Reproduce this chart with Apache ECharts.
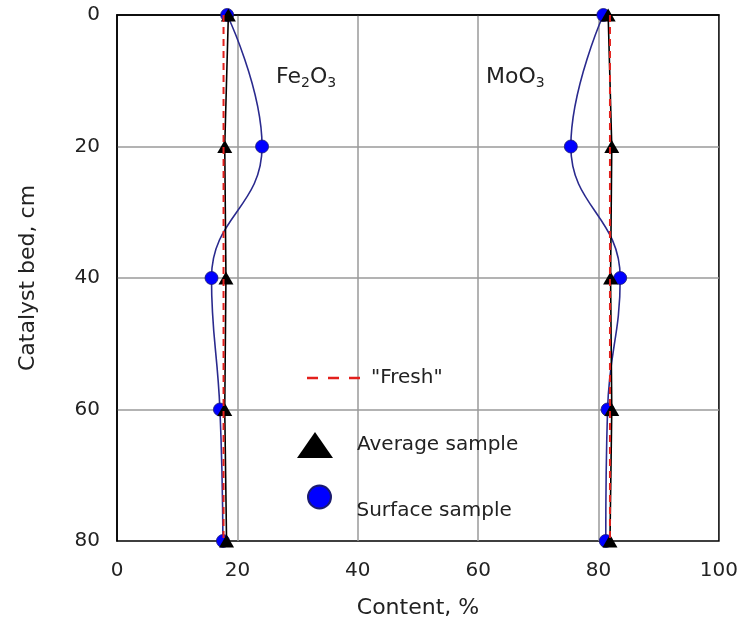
<!DOCTYPE html>
<html>
<head>
<meta charset="utf-8">
<style>
  html, body { margin: 0; padding: 0; background: #fff; }
  #chart { width: 741px; height: 626px; }
</style>
<script src="https://cdn.jsdelivr.net/npm/echarts@6/dist/echarts.min.js"></script>
</head>
<body>
<div id="chart"></div>
<script>
// Depth positions along the catalyst bed, cm
const depths = [0, 20, 40, 60, 80];

// Fe2O3 content, %
const feFresh   = [17.7, 17.7, 17.7, 17.7, 17.7];
const feAverage = [18.5, 17.9, 18.1, 17.9, 18.2];
const feSurface = [18.3, 24.1, 15.7, 17.1, 17.6];

// MoO3 content, %
const moFresh   = [81.9, 81.9, 81.9, 81.9, 81.9];
const moAverage = [81.6, 82.2, 82.0, 82.2, 81.9];
const moSurface = [80.8, 75.4, 83.6, 81.5, 81.2];

// Axis ticks
const xTicks = [0, 20, 40, 60, 80, 100];
const yTicks = [0, 20, 40, 60, 80];

const NAME_FRESH = '"Fresh"';
const NAME_AVG = 'Average sample';
const NAME_SURF = 'Surface sample';

const FONT = 'DejaVu Sans';
const TEXT_COLOR = '#222';

function pairs(values) {
  return values.map((v, i) => [v, depths[i]]);
}

function surfaceSeries(values) {
  return {
    name: NAME_SURF,
    type: 'line',
    data: pairs(values),
    smooth: 0.45,
    symbol: 'circle',
    symbolSize: 13,
    z: 2,
    lineStyle: { color: '#2a2a8e', width: 1.6 },
    itemStyle: { color: '#0000ff', borderColor: '#1b1b70', borderWidth: 0.8 }
  };
}

function averageSeries(values) {
  return {
    name: NAME_AVG,
    type: 'line',
    data: pairs(values),
    symbol: 'triangle',
    symbolSize: [15, 13],
    z: 3,
    lineStyle: { color: '#000', width: 1.6 },
    itemStyle: { color: '#000' }
  };
}

function freshSeries(values) {
  return {
    name: NAME_FRESH,
    type: 'line',
    data: pairs(values),
    symbol: 'none',
    z: 4,
    lineStyle: { color: '#e3201c', width: 2, type: [7, 5] },
    itemStyle: { color: '#e3201c' }
  };
}

const chart = echarts.init(document.getElementById('chart'), null, { renderer: 'canvas' });

const legendText = { fontFamily: FONT, fontSize: 20, color: TEXT_COLOR };

// three short red dashes for the "Fresh" legend key
const dashIcon = 'path://M0 0H11V2.4H0Z M21 0H32V2.4H21Z M42 0H53V2.4H42Z';

const gridLine = {
  showMinLine: false,
  showMaxLine: false,
  lineStyle: { color: '#9a9a9a', width: 1.5 }
};

const option = {
  backgroundColor: '#fff',
  animation: false,
  grid: {
    left: 117, right: 21, top: 15, bottom: 85,
    show: true, borderColor: '#000', borderWidth: 1.5, backgroundColor: 'transparent'
  },
  xAxis: {
    type: 'value',
    min: xTicks[0], max: xTicks[xTicks.length - 1], interval: 20,
    name: 'Content, %',
    nameLocation: 'middle',
    nameGap: 56,
    nameTextStyle: { fontFamily: FONT, fontSize: 22, color: TEXT_COLOR },
    axisLine: { lineStyle: { color: '#000', width: 1.5 } },
    axisTick: { show: false },
    axisLabel: { fontFamily: FONT, fontSize: 20, color: TEXT_COLOR, margin: 20 },
    splitLine: gridLine
  },
  yAxis: {
    type: 'value',
    inverse: true,
    min: yTicks[0], max: yTicks[yTicks.length - 1], interval: 20,
    name: 'Catalyst bed, cm',
    nameLocation: 'middle',
    nameGap: 78,
    nameRotate: 90,
    nameTextStyle: { fontFamily: FONT, fontSize: 22, color: TEXT_COLOR },
    axisLine: { lineStyle: { color: '#000', width: 1.5 } },
    axisTick: { show: false },
    axisLabel: { fontFamily: FONT, fontSize: 20, color: TEXT_COLOR, margin: 17 },
    splitLine: gridLine
  },
  legend: [
    {
      data: [{ name: NAME_FRESH, icon: dashIcon, itemStyle: { color: '#e3201c' } }],
      left: 307, top: 368, padding: 0,
      itemWidth: 53, itemHeight: 20,
      textStyle: Object.assign({}, legendText, { padding: [0, 0, 0, 6] }),
      selectedMode: false
    },
    {
      data: [{ name: NAME_AVG, icon: 'triangle' }],
      left: 297, top: 432, padding: 0,
      itemWidth: 36, itemHeight: 26,
      textStyle: Object.assign({}, legendText, { padding: [0, 0, 0, 19] }),
      selectedMode: false
    },
    {
      data: [{ name: NAME_SURF, icon: 'circle' }],
      left: 307, top: 470, padding: 0,
      itemWidth: 26, itemHeight: 23,
      formatter: '\n{name}',
      textStyle: Object.assign({}, legendText, { lineHeight: 27, padding: [0, 0, 0, 19] }),
      selectedMode: false
    }
  ],
  graphic: [
    {
      type: 'text', left: 276, top: 66,
      style: {
        text: 'Fe{s|2}O{s|3}',
        font: '22px "' + FONT + '"',
        fill: TEXT_COLOR,
        rich: {
          s: { fontSize: 14, fontFamily: FONT, padding: [12, 0, 0, 0], fill: TEXT_COLOR }
        }
      }
    },
    {
      type: 'text', left: 486, top: 66,
      style: {
        text: 'MoO{s|3}',
        font: '22px "' + FONT + '"',
        fill: TEXT_COLOR,
        rich: {
          s: { fontSize: 14, fontFamily: FONT, padding: [12, 0, 0, 0], fill: TEXT_COLOR }
        }
      }
    }
  ],
  series: [
    surfaceSeries(feSurface),
    averageSeries(feAverage),
    freshSeries(feFresh),
    surfaceSeries(moSurface),
    averageSeries(moAverage),
    freshSeries(moFresh)
  ]
};

chart.setOption(option);
</script>
</body>
</html>
